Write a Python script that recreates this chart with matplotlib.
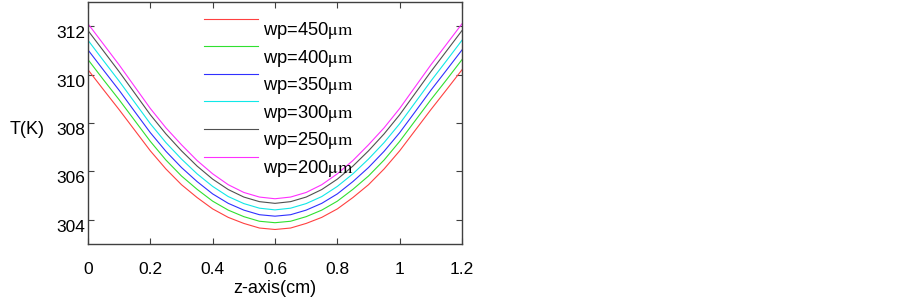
import numpy as np
import matplotlib
matplotlib.use("Agg")
import matplotlib.pyplot as plt
import matplotlib.transforms as mtransforms

plt.rcParams['font.family'] = ['Liberation Sans', 'DejaVu Sans']
plt.rcParams['mathtext.fontset'] = 'stix'

# z positions along the axis (cm)
z = [0.0, 0.05, 0.1, 0.15, 0.2, 0.25, 0.3, 0.35, 0.4, 0.45, 0.5, 0.55, 0.6,
     0.65, 0.7, 0.75, 0.8, 0.85, 0.9, 0.95, 1.0, 1.05, 1.1, 1.15, 1.2]

# temperature (K), one list per pump width
T_450 = [310.2, 309.37, 308.55, 307.7, 306.85, 306.1, 305.45, 304.92, 304.45, 304.1, 303.85, 303.66, 303.6,
         303.66, 303.85, 304.1, 304.45, 304.92, 305.45, 306.1, 306.85, 307.7, 308.55, 309.37, 310.2]
T_400 = [310.62, 309.78, 308.96, 308.1, 307.24, 306.47, 305.81, 305.26, 304.77, 304.4, 304.13, 303.94, 303.88,
         303.94, 304.13, 304.4, 304.77, 305.26, 305.81, 306.47, 307.24, 308.1, 308.96, 309.78, 310.62]
T_350 = [311.02, 310.18, 309.35, 308.47, 307.6, 306.83, 306.16, 305.58, 305.07, 304.68, 304.4, 304.21, 304.15,
         304.21, 304.4, 304.68, 305.07, 305.58, 306.16, 306.83, 307.6, 308.47, 309.35, 310.18, 311.02]
T_300 = [311.42, 310.57, 309.73, 308.85, 307.97, 307.19, 306.51, 305.9, 305.38, 304.96, 304.67, 304.48, 304.41,
         304.48, 304.67, 304.96, 305.38, 305.9, 306.51, 307.19, 307.97, 308.85, 309.73, 310.57, 311.42]
T_250 = [311.82, 310.97, 310.12, 309.23, 308.34, 307.55, 306.85, 306.22, 305.68, 305.25, 304.94, 304.75, 304.68,
         304.75, 304.94, 305.25, 305.68, 306.22, 306.85, 307.55, 308.34, 309.23, 310.12, 310.97, 311.82]
T_200 = [312.1, 311.25, 310.4, 309.5, 308.6, 307.8, 307.1, 306.45, 305.9, 305.45, 305.13, 304.94, 304.87,
         304.94, 305.13, 305.45, 305.9, 306.45, 307.1, 307.8, 308.6, 309.5, 310.4, 311.25, 312.1]

labels = ['450', '400', '350', '300', '250', '200']
series = [T_450, T_400, T_350, T_300, T_250, T_200]
colors = ['#ff4040', '#30e030', '#3030ff', '#10e8e8', '#505050', '#ff30ff']

fig = plt.figure(figsize=(9.02, 3.01), dpi=100)
ax = fig.add_axes([88 / 902, 1 - 244 / 301, (462 - 88) / 902, (244 - 2) / 301])

for T, lab, c in zip(series, labels, colors):
    ax.plot(z, T, color=c, lw=0.8, label='wp=' + lab + r'$\mathrm{\mu m}$')

ax.set_xlim(0, 1.2)
ax.set_ylim(303, 313)
ax.set_xticks([0, 0.2, 0.4, 0.6, 0.8, 1.0, 1.2])
ax.set_xticklabels(['0', '0.2', '0.4', '0.6', '0.8', '1', '1.2'])
ax.set_yticks([304, 306, 308, 310, 312])
ax.tick_params(direction='in', length=4, width=0.8, color='#404040',
               top=True, right=True, labelsize=12.5, pad=2)
ax.tick_params(axis='x', pad=13)
for sp in ax.spines.values():
    sp.set_color('#404040')
    sp.set_linewidth(1.0)

# MATLAB export puts the y labels a bit below the ticks
off = mtransforms.ScaledTranslation(0, -6 / 100, fig.dpi_scale_trans)
for t in ax.get_yticklabels():
    t.set_transform(t.get_transform() + off)

ax.set_xlabel('z-axis(cm)', fontsize=13, labelpad=2)
fig.text(10 / 902, 1 - 130 / 301, 'T(K)', fontsize=13, va='center', ha='left')

leg = ax.legend(frameon=False, loc='upper left', bbox_to_anchor=(0.276, 1.02),
                fontsize=13.2, handlelength=2.95, handletextpad=0.28,
                labelspacing=0.36, borderpad=0.2)
for t in leg.get_texts():
    t.set_y(-10)

fig.savefig('out.png', dpi=100)
